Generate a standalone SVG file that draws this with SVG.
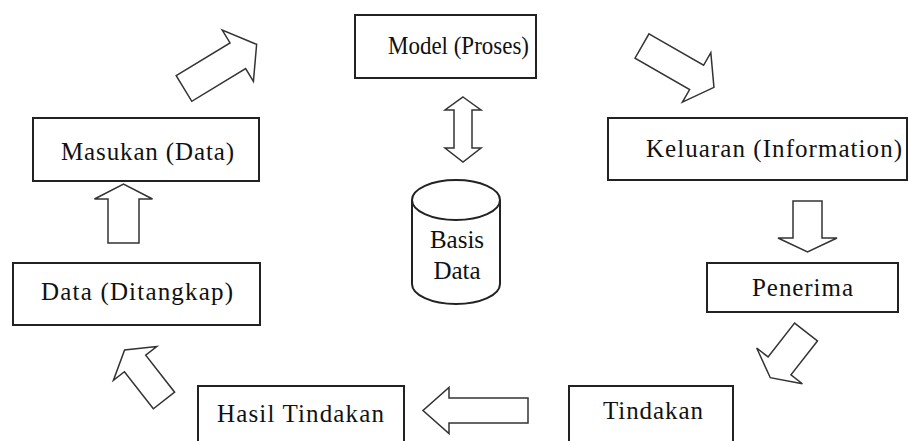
<svg xmlns="http://www.w3.org/2000/svg" width="908" height="441" viewBox="0 0 908 441">
<style>
.box{fill:#fff;stroke:#222;stroke-width:2}
.arr{fill:#fff;stroke:#333;stroke-width:1.5;stroke-linejoin:miter}
.t{font-family:"Liberation Serif","Times New Roman",serif;font-size:25px;fill:#111}
</style>
<rect width="908" height="441" fill="#fff"/>
<g id="connectors">
<polygon class="arr" transform="translate(184,88.5) rotate(-31.3)" points="0,-15 63,-15 63,-30 85,0 63,30 63,15 0,15"/>
<polygon class="arr" transform="translate(642,46) rotate(29.9)" points="0,-14 63,-14 63,-28.5 83,0 63,28.5 63,14 0,14"/>
<polygon class="arr" transform="translate(123.5,243) rotate(-90)" points="0,-15.5 44,-15.5 44,-29 59,0 44,29 44,15.5 0,15.5"/>
<polygon class="arr" transform="translate(807.5,201) rotate(90)" points="0,-14.5 37,-14.5 37,-29.5 51,0 37,29.5 37,14.5 0,14.5"/>
<polygon class="arr" transform="translate(806,332) rotate(128)" points="0,-14.5 43,-14.5 43,-29 58,0 43,29 43,14.5 0,14.5"/>
<polygon class="arr" transform="translate(528,410.5) rotate(180)" points="0,-12.5 79,-12.5 79,-23 105,0 79,23 79,12.5 0,12.5"/>
<polygon class="arr" transform="translate(164,400.5) rotate(-128)" points="0,-13.5 47,-13.5 47,-27.5 64,0 47,27.5 47,13.5 0,13.5"/>
<polygon class="arr" points="463,97 481,110 472,110 472,148 481,148 463,162 445,148 454,148 454,110 445,110"/>
</g>
<g id="model">
<rect class="box" x="355" y="15" width="181" height="63"/>
<text class="t" x="388" y="54" textLength="141" lengthAdjust="spacingAndGlyphs">Model (Proses)</text>
</g>
<g id="masukan">
<rect class="box" x="33" y="118" width="226" height="63"/>
<text class="t" x="61" y="160" textLength="173" lengthAdjust="spacing">Masukan (Data)</text>
</g>
<g id="keluaran">
<rect class="box" x="608" y="118" width="299" height="62"/>
<text class="t" x="646" y="157" textLength="256" lengthAdjust="spacing">Keluaran (Information)</text>
</g>
<g id="data-ditangkap">
<rect class="box" x="13" y="263" width="247" height="62"/>
<text class="t" x="41" y="300" textLength="192" lengthAdjust="spacing">Data (Ditangkap)</text>
</g>
<g id="penerima">
<rect class="box" x="707" y="263" width="191" height="49"/>
<text class="t" x="752" y="296" textLength="101" lengthAdjust="spacing">Penerima</text>
</g>
<g id="basis-data">
<path class="box" d="M412,200 L412,284 A44,20 0 0 0 500,284 L500,200"/>
<ellipse class="box" cx="456" cy="200" rx="44" ry="20"/>
<text class="t" x="457" y="248" text-anchor="middle">Basis</text>
<text class="t" x="457" y="279" text-anchor="middle">Data</text>
</g>
<g id="hasil-tindakan">
<rect class="box" x="198" y="386" width="206" height="70"/>
<text class="t" x="217" y="422" textLength="167" lengthAdjust="spacing">Hasil Tindakan</text>
</g>
<g id="tindakan">
<rect class="box" x="569" y="386" width="164" height="70"/>
<text class="t" x="603" y="419" textLength="100" lengthAdjust="spacing">Tindakan</text>
</g>
</svg>
